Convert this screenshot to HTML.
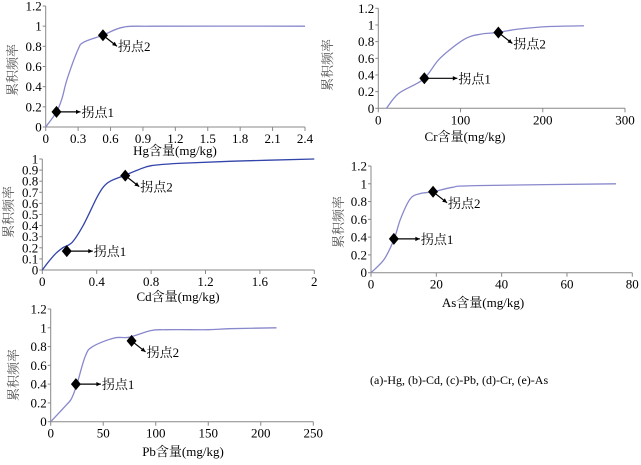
<!DOCTYPE html>
<html><head><meta charset="utf-8">
<style>
body{margin:0;background:#fff;}
svg text{font-family:"Liberation Serif","Noto Serif CJK SC",serif;}
</style></head>
<body>
<svg id="fig" width="641" height="460" viewBox="0 0 641 460" xmlns="http://www.w3.org/2000/svg">
<text x="370" y="384" font-size="12" fill="#000">(a)-Hg, (b)-Cd, (c)-Pb, (d)-Cr, (e)-As</text>
</svg>
<script>
// Hg
const hgX=[0,0.1,0.15,0.2,0.3,0.35,0.5,0.55,0.72,1.0,2.4];
const hgY=[0,0.15,0.28,0.48,0.77,0.84,0.9,0.92,0.99,1.0,1.0];
const hgMarkX=[0.1,0.53];const hgMarkY=[0.15,0.91];
const hgXTicks=[0,0.3,0.6,0.9,1.2,1.5,1.8,2.1,2.4];
const hgYTicks=[0,0.2,0.4,0.6,0.8,1,1.2];
// Cd
const cdX=[0,0.05,0.1,0.15,0.22,0.3,0.4,0.45,0.5,0.6,0.7,0.8,1.0,1.4,2.0];
const cdY=[0,0.08,0.15,0.2,0.25,0.4,0.65,0.75,0.8,0.85,0.9,0.94,0.96,0.98,1.0];
const cdMarkX=[0.18,0.61];const cdMarkY=[0.17,0.85];
const cdXTicks=[0,0.4,0.8,1.2,1.6,2];
const cdYTicks=[0,0.1,0.2,0.3,0.4,0.5,0.6,0.7,0.8,0.9,1];
// Cr
const crX=[10,25,55,75,105,125,145,170,205,250];
const crY=[0,0.18,0.35,0.6,0.83,0.89,0.91,0.95,0.98,0.99];
const crMarkX=[56,146];const crMarkY=[0.36,0.91];
const crXTicks=[0,100,200,300];
const crYTicks=[0,0.2,0.4,0.6,0.8,1,1.2];
// As
const asX=[0,4,7,9,12,15,19,25,32,75];
const asY=[0,0.15,0.37,0.6,0.83,0.89,0.91,0.96,0.98,1];
const asMarkX=[7,19];const asMarkY=[0.38,0.91];
const asXTicks=[0,20,40,60,80];
const asYTicks=[0,0.2,0.4,0.6,0.8,1,1.2];
// Pb
const pbX=[0,15,20,25,33,40,60,75,95,110,150,170,215];
const pbY=[0,0.18,0.25,0.4,0.7,0.8,0.89,0.9,0.97,0.98,0.98,0.99,1];
const pbMarkX=[24,77];const pbMarkY=[0.4,0.86];
const pbXTicks=[0,50,100,150,200,250];
const pbYTicks=[0,0.2,0.4,0.6,0.8,1,1.2];

const NS="http://www.w3.org/2000/svg";
const fig=document.getElementById('fig');
function mk(tag,attrs,parent){const e=document.createElementNS(NS,tag);for(const k in attrs)e.setAttribute(k,attrs[k]);(parent||fig).appendChild(e);return e;}

function smooth(p){
  let d='M'+p[0][0].toFixed(1)+','+p[0][1].toFixed(1);
  for(let i=0;i<p.length-1;i++){
    const p0=p[i-1]||p[i],p1=p[i],p2=p[i+1],p3=p[i+2]||p2;
    const c1x=p1[0]+(p2[0]-p0[0])/6,c1y=p1[1]+(p2[1]-p0[1])/6;
    const c2x=p2[0]-(p3[0]-p1[0])/6,c2y=p2[1]-(p3[1]-p1[1])/6;
    d+=`C${c1x.toFixed(1)},${c1y.toFixed(1)} ${c2x.toFixed(1)},${c2y.toFixed(1)} ${p2[0].toFixed(1)},${p2[1].toFixed(1)}`;
  }
  return d;
}

function chart(c){
  const g=mk('g',{});
  
  
  const sx=v=>c.x0+(v-c.xmin)/(c.xmax-c.xmin)*(c.x1-c.x0);
  const sy=v=>c.y0-(v-c.ymin)/(c.ymax-c.ymin)*(c.y0-c.y1);
  const ax=mk('path',{d:`M${c.x0},${c.y1}V${c.y0}H${c.x1}`,stroke:'#888',fill:'none','stroke-width':1},g);
  
  
  c.yt.forEach(v=>{
    mk('line',{x1:c.x0-3,x2:c.x0,y1:sy(v),y2:sy(v),stroke:'#888'},g);
    const t=mk('text',{x:c.x0-4,y:sy(v)+4.5,'font-size':13,'text-anchor':'end'},g);
    t.textContent=String(v);
    
    
  });
  c.xt.forEach(v=>{
    mk('line',{x1:sx(v),x2:sx(v),y1:c.y0,y2:c.y0+4,stroke:'#888'},g);
    const t=mk('text',{x:sx(v),y:c.y0+16,'font-size':13,'text-anchor':'middle'},g);
    t.textContent=String(v);
    
    
  });
  const xt=mk('text',{x:c.xtx,y:c.xty,'font-size':13,'text-anchor':'middle'},g);
  xt.textContent=c.xlabel;
  
  
  const yt=mk('text',{x:0,y:0,'font-size':13,'text-anchor':'middle',fill:'#555',transform:`translate(${c.ytx},${c.yty}) rotate(-90)`},g);
  yt.textContent='累积频率';
  
  
  const pts=c.xs.map((v,i)=>[sx(v),sy(c.ys[i])]);
  const ln=mk('path',{d:smooth(pts),stroke:c.col,fill:'none','stroke-width':1.3},g);
  
  
  c.mx.forEach((v,i)=>{
    const px=sx(v),py=sy(c.my[i]);
    const m=mk('path',{d:`M${px},${py-6}L${px+5},${py}L${px},${py+6}L${px-5},${py}Z`,fill:'#000'},g);
    
    
    let ex,ey,tx,ty;
    if(i===0){ex=px+c.a1;ey=py;tx=ex+1;ty=py+5;}
    else{ex=px+14;ey=py+11;tx=ex+1;ty=ey+5;}
    mk('line',{x1:px,y1:py,x2:ex,y2:ey,stroke:'#000','stroke-width':1.2},g);
    const ang=Math.atan2(ey-py,ex-px);
    const h=5;
    mk('path',{d:`M${ex},${ey}L${ex-h*Math.cos(ang-0.45)},${ey-h*Math.sin(ang-0.45)}L${ex-h*Math.cos(ang+0.45)},${ey-h*Math.sin(ang+0.45)}Z`,fill:'#000'},g);
    const t=mk('text',{x:tx,y:ty,'font-size':13},g);
    t.textContent='拐点'+(i+1);
    
    
  });
}

chart({name:'hg',x0:45.7,x1:305,y0:127,y1:6,xmin:0,xmax:2.4,ymin:0,ymax:1.2,xs:hgX,ys:hgY,mx:hgMarkX,my:hgMarkY,xt:hgXTicks,yt:hgYTicks,xlabel:'Hg含量(mg/kg)',xtx:175,xty:155,ytx:17,yty:70,col:'#8888cc',a1:24});
chart({name:'cd',x0:42.3,x1:314.3,y0:270,y1:159,xmin:0,xmax:2,ymin:0,ymax:1,xs:cdX,ys:cdY,mx:cdMarkX,my:cdMarkY,xt:cdXTicks,yt:cdYTicks,xlabel:'Cd含量(mg/kg)',xtx:178,xty:301,ytx:13,yty:212,col:'#3344aa',a1:26});
chart({name:'cr',x0:378.3,x1:625,y0:108.3,y1:8.3,xmin:0,xmax:300,ymin:0,ymax:1.2,xs:crX,ys:crY,mx:crMarkX,my:crMarkY,xt:crXTicks,yt:crYTicks,xlabel:'Cr含量(mg/kg)',xtx:465,xty:141,ytx:332,yty:65,col:'#8888cc',a1:33});
chart({name:'as',x0:371,x1:632.3,y0:272.7,y1:166,xmin:0,xmax:80,ymin:0,ymax:1.2,xs:asX,ys:asY,mx:asMarkX,my:asMarkY,xt:asXTicks,yt:asYTicks,xlabel:'As含量(mg/kg)',xtx:483,xty:307,ytx:343,yty:222,col:'#8888cc',a1:26});
chart({name:'pb',x0:50.7,x1:313.3,y0:421.7,y1:309,xmin:0,xmax:250,ymin:0,ymax:1.2,xs:pbX,ys:pbY,mx:pbMarkX,my:pbMarkY,xt:pbXTicks,yt:pbYTicks,xlabel:'Pb含量(mg/kg)',xtx:183,xty:456,ytx:18,yty:375,col:'#8888cc',a1:25});
</script>
</body></html>
